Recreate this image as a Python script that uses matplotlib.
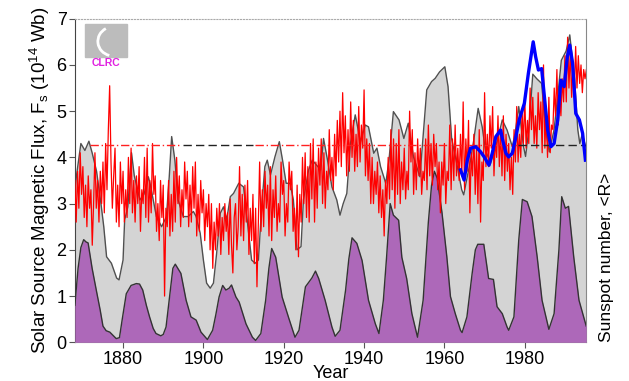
import matplotlib.pyplot as plt
import matplotlib.patches as mpatches
import numpy as np

plt.rcParams['font.family'] = ['Liberation Sans', 'DejaVu Sans']
plt.rcParams['mathtext.default'] = 'regular'

# smoothed sunspot number, scaled onto the flux axis (purple)
ssn_year = [1868.0, 1868.8, 1869.5, 1870.2, 1870.8, 1871.3, 1872.3, 1873.4, 1874.3, 1875.0,
            1875.8, 1876.7, 1877.5, 1878.3, 1879.1, 1879.8, 1880.8, 1882.0, 1883.3, 1884.1,
            1884.9, 1885.8, 1886.6, 1887.5, 1888.2, 1889.4, 1890.0, 1890.7, 1891.6, 1892.4,
            1893.0, 1894.4, 1895.7, 1896.9, 1898.2, 1899.4, 1901.0, 1902.3, 1903.1, 1903.9,
            1904.8, 1905.6, 1906.4, 1907.0, 1908.1, 1908.9, 1910.6, 1912.2, 1913.0, 1914.3,
            1915.5, 1916.3, 1917.0, 1918.0, 1919.6, 1921.3, 1922.8, 1923.8, 1925.4, 1927.0,
            1927.9, 1928.7, 1930.3, 1932.0, 1932.8, 1934.0, 1935.4, 1936.2, 1937.0, 1938.2,
            1939.5, 1941.1, 1942.8, 1943.7, 1944.8, 1945.6, 1946.5, 1947.3, 1948.6, 1949.4,
            1950.6, 1951.9, 1953.3, 1954.7, 1956.0, 1956.8, 1957.5, 1958.2, 1959.4, 1960.6,
            1961.5, 1962.7, 1964.0, 1964.4, 1965.6, 1966.9, 1967.7, 1968.3, 1969.8, 1971.0,
            1972.2, 1973.1, 1974.4, 1975.6, 1976.0, 1977.3, 1978.5, 1979.4, 1980.6, 1981.8,
            1983.1, 1984.3, 1986.0, 1987.3, 1988.5, 1989.2, 1990.1, 1990.9, 1992.2, 1993.5,
            1995.3]
ssn_val = [0.8, 1.6, 2.05, 2.22, 2.17, 2.15, 1.6, 1.1, 0.7, 0.35,
           0.25, 0.22, 0.15, 0.08, 0.1, 0.5, 1.05, 1.23, 1.27, 1.26,
           1.13, 0.8, 0.55, 0.3, 0.19, 0.14, 0.17, 0.33, 1.0, 1.6,
           1.69, 1.49, 0.91, 0.55, 0.48, 0.22, 0.06, 0.26, 0.6, 0.98,
           1.23, 1.13, 1.17, 1.24, 0.98, 0.87, 0.40, 0.11, 0.04, 0.19,
           0.91, 1.6, 2.03, 1.84, 0.98, 0.51, 0.11, 0.26, 1.2, 1.39,
           1.54, 1.38, 0.91, 0.33, 0.13, 0.26, 1.13, 1.8, 2.26, 2.14,
           1.77, 0.91, 0.40, 0.19, 0.91, 1.84, 3.0, 2.75, 2.64, 1.84,
           1.38, 0.62, 0.11, 0.91, 2.6, 3.4, 3.7, 3.55, 2.8, 1.85,
           0.99, 0.62, 0.26, 0.21, 0.55, 1.49, 2.0, 2.12, 2.12, 1.38,
           1.36, 0.77, 0.62, 0.33, 0.26, 0.55, 2.21, 3.09, 3.04, 2.72,
           1.84, 0.91, 0.28, 0.62, 2.0, 3.15, 2.9, 2.94, 1.84, 0.91,
           0.35]

# grey curve
grey_year = [1868.0, 1868.4, 1869.5, 1870.5, 1871.5, 1872.3, 1873.4, 1874.5, 1875.2, 1875.9,
             1877.1, 1878.4, 1879.0, 1880.0, 1880.4, 1881.2, 1882.1, 1882.8, 1884.2, 1885.2,
             1886.3, 1886.9, 1888.3, 1889.6, 1890.8, 1891.5, 1892.1, 1892.9, 1893.7, 1895.0,
             1896.2, 1897.5, 1898.2, 1899.2, 1900.0, 1900.8, 1901.7, 1902.5, 1903.3, 1904.2,
             1905.0, 1905.8, 1906.7, 1907.5, 1908.8, 1910.0, 1910.8, 1912.0, 1912.9, 1913.7,
             1914.5, 1915.3, 1915.9, 1916.7, 1917.8, 1918.9, 1919.7, 1920.6, 1921.6, 1922.4,
             1923.3, 1924.3, 1924.9, 1926.2, 1927.1, 1928.5, 1929.2, 1929.9, 1930.9, 1932.0,
             1933.2, 1934.0, 1934.8, 1935.7, 1936.6, 1937.8, 1939.1, 1940.3, 1941.1, 1942.4,
             1943.2, 1944.1, 1945.4, 1946.2, 1947.3, 1948.7, 1949.9, 1951.0, 1952.3, 1953.9,
             1955.6, 1956.8, 1957.7, 1958.8, 1960.1, 1960.9, 1961.8, 1963.0, 1964.3, 1964.8,
             1966.5, 1967.3, 1968.4, 1969.4, 1970.2, 1971.5, 1973.2, 1974.4, 1975.6, 1976.9,
             1977.6, 1978.5, 1979.7, 1980.2, 1981.0, 1982.0, 1983.0, 1984.2, 1985.2, 1986.1,
             1987.3, 1988.3, 1989.1, 1990.3, 1991.2, 1992.4, 1993.2, 1993.7, 1994.3, 1995.3]
grey_val = [3.3, 3.6, 4.3, 4.15, 4.35, 4.1, 3.7, 3.0, 2.5, 1.85,
            1.71, 1.39, 1.35, 1.78, 2.65, 2.93, 4.1, 3.6, 3.08, 3.2,
            3.58, 3.36, 2.72, 2.5, 2.72, 3.58, 4.45, 3.94, 3.08, 2.72,
            2.72, 2.83, 2.72, 2.36, 1.78, 1.28, 1.17, 1.28, 1.93, 2.79,
            2.93, 2.65, 3.15, 3.22, 3.44, 3.36, 2.72, 1.78, 1.71, 1.78,
            2.93, 3.8, 3.94, 3.62, 4.01, 4.34, 3.94, 3.44, 3.44, 3.08,
            2.0, 2.07, 3.08, 3.73, 3.94, 3.8, 3.73, 4.41, 3.94, 3.36,
            3.08, 2.75, 3.0, 3.22, 4.3, 4.92, 4.34, 4.7, 4.66, 4.09,
            4.2, 3.8, 3.44, 3.94, 4.99, 4.81, 4.41, 4.74, 4.01, 3.58,
            5.46, 5.64, 5.71, 5.85, 5.96, 5.53, 4.4, 3.9, 3.3, 3.19,
            3.94, 4.37, 5.06, 4.66, 4.16, 3.87, 4.37, 4.81, 4.59, 4.23,
            4.52, 5.1, 4.23, 4.02, 4.6, 5.8, 5.7, 5.6, 4.6, 4.12,
            4.6, 5.4, 6.1, 6.3, 6.65, 5.7, 4.6, 4.3, 4.5, 4.2]

# red: flux from the aa index, three readings per year from 1868
red_start = 1868
red_flux = [3.5, 2.6, 3.7,  2.9, 4.1, 3.2,  3.8, 2.7, 3.4,  2.5, 3.6, 2.9,  3.3, 2.1, 3.0,
            4.1, 2.9, 3.5,  2.6, 3.7, 3.0,  3.9, 2.8, 4.3,  3.3, 4.6, 5.55, 3.9, 2.9, 3.6,
            4.2, 2.6, 3.4,  2.5, 3.9, 3.0,  3.7, 2.6, 3.3,  2.7, 4.0, 3.0,  4.2, 2.8, 3.5,
            2.6, 3.6, 3.0,  3.8, 2.4, 3.3,  3.0, 4.0, 2.7,  4.2, 2.6, 3.5,  2.8, 4.3, 3.2,
            3.6, 2.4, 3.0,  2.2, 3.5, 2.7,  3.4, 1.0, 2.9,  2.5, 3.5, 2.3,  3.2, 2.4, 3.7,
            2.6, 4.0, 3.0,  3.6, 2.5, 3.3,  2.7, 3.9, 3.1,  3.7, 2.5, 3.4,  2.6, 3.8, 2.9,
            3.9, 2.3, 3.2,  2.4, 3.5, 2.8,  3.3, 2.2, 3.0,  2.5, 3.2, 2.0,  3.0, 1.6, 2.6,
            2.0, 2.9, 2.3,  3.0, 1.9, 2.7,  2.2, 3.0, 2.4,  2.8, 1.9, 3.1,  2.1, 1.5, 2.7,
            3.0, 2.0, 2.5,  3.8, 2.3, 3.2,  2.2, 3.4, 2.6,  3.5, 1.9, 2.9,  2.2, 3.2, 1.7,
            2.9, 1.2, 2.5,  3.9, 2.4, 3.3,  2.5, 3.7, 2.9,  3.4, 2.3, 3.8,  2.2, 3.3, 2.7,
            3.6, 2.4, 3.0,  2.6, 3.9, 3.2,  3.5, 2.3, 3.0,  2.6, 3.9, 3.3,  3.7, 2.4, 2.9,
            2.0, 3.4, 1.85, 3.2, 2.6, 4.0,  3.0, 4.1, 2.7,  3.8, 2.6, 4.3,  3.1, 4.4, 2.6,
            3.9, 2.9, 4.2,  3.4, 4.4, 3.0,  4.1, 2.9, 3.7,  3.3, 4.6, 3.5,  4.0, 3.3, 4.5,
            3.6, 4.8, 3.9,  5.0, 3.8, 5.4,  4.1, 4.9, 3.6,  4.6, 3.7, 5.2,  4.0, 4.8, 3.7,
            4.5, 3.8, 5.1,  3.9, 4.7, 4.2,  5.46, 3.6, 4.4, 3.5, 4.3, 3.0,  4.0, 3.0, 3.7,
            3.2, 3.9, 2.8,  3.6, 2.7, 3.3,  2.3, 3.5, 3.0,  4.0, 3.1, 4.6,  3.3, 4.4, 2.9,
            4.3, 3.2, 4.6,  3.0, 3.9, 3.3,  4.2, 3.1, 3.7,  3.3, 5.0, 3.9,  4.6, 3.2, 4.1,
            3.3, 4.4, 3.6,  4.2, 3.2, 3.7,  3.5, 4.4, 3.3,  4.7, 3.6, 4.3,  3.4, 4.5, 3.8,
            4.3, 3.3, 3.9,  2.8, 3.9, 3.4,  4.3, 3.0, 3.7,  3.5, 4.7, 3.3,  4.4, 3.5, 4.7,
            3.6, 4.2, 3.5,  4.5, 3.6, 5.2,  3.3, 4.4, 3.7,  4.8, 2.8, 4.1,  3.6, 4.5, 3.2,
            4.2, 3.0, 4.6,  2.6, 3.9, 3.5,  5.4, 3.8, 4.5,  3.8, 4.9, 4.2,  5.1, 3.6, 4.4,
            4.0, 4.9, 3.8,  4.6, 3.6, 4.9,  3.5, 4.5, 3.7,  4.3, 3.3, 4.0,  3.2, 4.6, 3.9,
            5.1, 3.9, 4.5,  4.0, 5.0, 4.3,  5.3, 4.2, 4.8,  4.3, 5.5, 4.6,  5.3, 4.3, 4.9,
            4.2, 5.4, 4.6,  5.2, 4.1, 6.0,  4.2, 5.0, 4.0,  5.3, 4.1, 4.7,  4.6, 5.5, 4.9,
            5.9, 4.7, 5.3,  4.9, 5.7, 5.2,  6.2, 5.2, 6.6,  5.5, 6.3, 5.3,  6.0, 5.4, 6.4,
            5.5, 6.2, 5.6,  6.0, 5.4, 5.9,  5.7, 5.9]

# blue: measured flux (spacecraft era)
blue_year = [1964.0, 1964.9, 1965.7, 1966.5, 1967.8, 1969.0, 1969.9, 1971.1, 1971.9, 1972.8,
             1974.0, 1974.4, 1975.3, 1976.0, 1976.9, 1977.8, 1978.6, 1979.9, 1980.9, 1982.1,
             1982.7, 1983.4, 1984.2, 1984.8, 1985.7, 1986.5, 1987.3, 1988.2, 1989.0, 1989.8,
             1990.6, 1991.2, 1991.9, 1992.7, 1993.6, 1994.4, 1995.1]
blue_val = [3.73, 3.51, 3.94, 4.2, 4.23, 4.12, 4.01, 3.83, 4.09, 4.45,
            4.59, 4.41, 4.09, 4.01, 4.09, 4.45, 4.81, 5.17, 5.82, 6.5,
            6.18, 5.89, 5.92, 5.39, 4.59, 4.23, 4.3, 4.81, 5.67, 5.53,
            6.18, 6.43, 6.04, 4.95, 4.81, 4.52, 3.94]

mean_flux = 4.27
red_dash = [(1871.8, 1894.5), (1912.8, 1978.0)]
black_dash = [(1895.0, 1912.3), (1978.3, 1995.3)]

fig = plt.figure(figsize=(6.29, 3.81), dpi=100)
ax = fig.add_axes([0.119, 0.1016, 0.813, 0.8493])

ax.fill_between(grey_year, 0, grey_val, color='#d4d4d4', lw=0, zorder=1)
ax.plot(grey_year, grey_val, color='#505050', lw=1.0, zorder=2)
ax.fill_between(ssn_year, 0, ssn_val, color='#ad68b9', lw=0, zorder=3)
ax.plot(ssn_year, ssn_val, color='#333333', lw=1.0, zorder=4)

red_t = red_start + np.arange(len(red_flux)) / 3.0
ax.plot(red_t, red_flux, color='#ff0000', lw=0.9, zorder=5)

for a, b in red_dash:
    ax.plot([a, b], [mean_flux, mean_flux], color='#ff2020', lw=1.0, ls=(0, (6, 2, 1, 2)), zorder=6)
for a, b in black_dash:
    ax.plot([a, b], [mean_flux, mean_flux], color='#222222', lw=1.0, ls=(0, (6, 3)), zorder=6)

ax.plot(blue_year, blue_val, color='#0000ff', lw=2.4, zorder=7)

ax.set_xlim(1868, 1995.3)
ax.set_ylim(0, 7)
ax.set_xticks([1880, 1900, 1920, 1940, 1960, 1980])
ax.set_yticks(range(0, 8))
ax.tick_params(labelsize=13, direction='out', length=4, color='#555555', pad=2)
ax.tick_params(axis='y', right=False)
for s in ax.spines.values():
    s.set_color('#888888')
ax.spines['top'].set_color('#aaaaaa')
ax.spines['top'].set_linestyle(':')
ax.spines['left'].set_color('#444444')

ax.set_xlabel('Year', fontsize=13, labelpad=-2)
ax.set_ylabel('Solar Source Magnetic Flux, F$_{s}$ (10$^{14}$ Wb)', fontsize=13.5, labelpad=3)
fig.text(0.965, 0.1016, 'Sunspot number, <R>', rotation=90, fontsize=12.5, ha='center', va='bottom')

# CLRC logo
ax.add_patch(mpatches.Rectangle((0.0196, 0.882), 0.082, 0.102, transform=ax.transAxes,
                                color='#bcbcbc', zorder=8, clip_on=False))
ax.add_patch(mpatches.Arc((0.075, 0.93), 0.06, 0.09, theta1=110, theta2=260, transform=ax.transAxes,
                          color='white', lw=2, zorder=9))
ax.text(0.061, 0.862, 'CLRC', transform=ax.transAxes, color='#e020e0', fontsize=7.5,
        fontweight='bold', ha='center', va='center', zorder=9)

fig.savefig('out.png', dpi=100)
